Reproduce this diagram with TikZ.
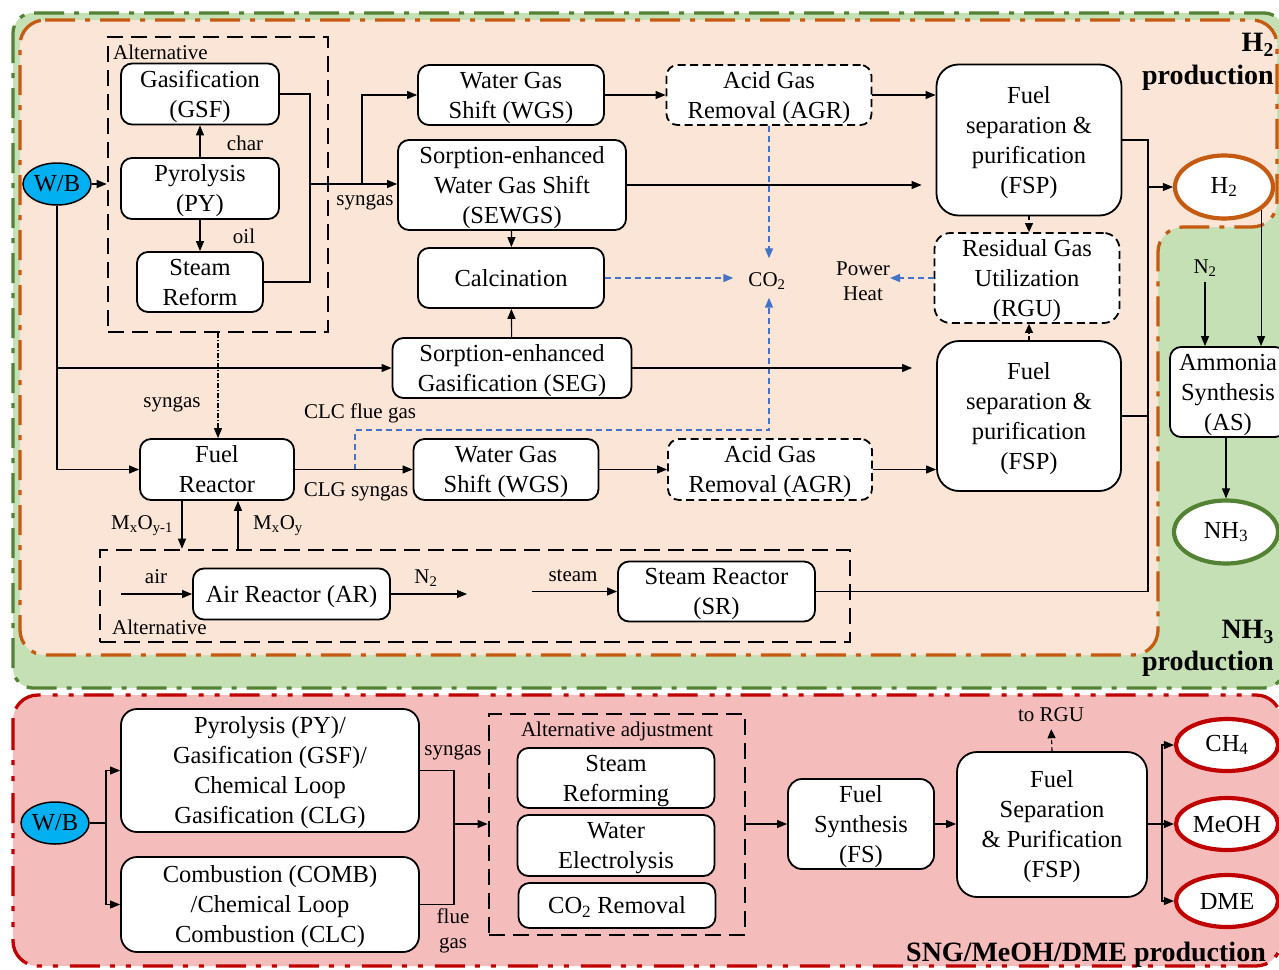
\documentclass[tikz,border=0pt]{standalone}
\usepackage{fontspec}
\setmainfont{Liberation Serif}
\usetikzlibrary{arrows.meta,calc,shapes.geometric}
\definecolor{peachF}{HTML}{FBE5D6}
\definecolor{greenF}{HTML}{C5E0B4}
\definecolor{pinkF}{HTML}{F5BCBC}
\definecolor{greenB}{HTML}{548235}
\definecolor{orangeB}{HTML}{C55A11}
\definecolor{redB}{HTML}{C00000}
\definecolor{blueC}{HTML}{4472C4}
\definecolor{wbC}{HTML}{00B0F0}
\newcommand{\fmain}{\fontsize{24.5}{30}\selectfont}
\newcommand{\fsmall}{\fontsize{21}{25}\selectfont}
\newcommand{\fbig}{\fontsize{28}{32}\selectfont\bfseries}
\newcommand{\sbs}[1]{\textsubscript{#1}}
\newcommand{\tx}[1]{\raisebox{-2pt}[\height][\depth]{\begin{tabular}{@{}c@{}}#1\end{tabular}}}
\tikzset{
 box/.style={draw, line width=1.8pt, rounded corners=11pt, fill=white, align=center, inner sep=0pt, font=\fmain},
 dbox/.style={box, dash pattern=on 8pt off 4.5pt},
 altbox/.style={draw, line width=2.6pt, dash pattern=on 16pt off 8pt, inner sep=0pt},
 conn/.style={line width=1.1pt, -{Triangle[length=10pt,width=8pt]}},
 plainline/.style={line width=1.1pt},
 bdash/.style={draw=blueC, line width=1.5pt, dash pattern=on 6pt off 4pt, -{Triangle[length=10pt,width=8pt]}},
 kdash/.style={line width=1.1pt, dash pattern=on 4pt off 3pt, -{Triangle[length=9pt,width=8pt]}},
 ddot/.style={line width=1.1pt, dash pattern=on 5pt off 2pt on 1pt off 2pt, -{Triangle[length=10pt,width=8pt]}},
 lbl/.style={font=\fsmall, inner sep=0pt, align=center},
 ttl/.style={font=\fbig, inner sep=0pt, anchor=east},
 wbnode/.style={ellipse, draw, line width=1.5pt, fill=wbC, inner sep=0pt, font=\fmain},
 prod/.style={ellipse, fill=white, inner sep=0pt, font=\fmain, line width=4.2pt},
 region/.style={line width=3.3pt, dash pattern=on 30pt off 10pt on 5pt off 10pt}
}
\begin{document}
\begin{tikzpicture}[x=1pt,y=-1pt]
\useasboundingbox (0,0) rectangle (1279,969);
% regions
\draw[region, draw=greenB, fill=greenF, rounded corners=20pt] (13,13) rectangle (1284,688);
\draw[region, draw=orangeB, fill=peachF, rounded corners=25pt] (20,20) -- (1277,20) -- (1277,227) -- (1158,227) -- (1158,655) -- (20,655) -- cycle;
\draw[line width=3.3pt, dash pattern=on 30pt off 10pt on 5pt off 11pt on 5pt off 12pt, draw=redB, fill=pinkF, rounded corners=25pt] (13,695) rectangle (1281,966);

% titles
\node[ttl] (t1a) at (1274,45) {H\sbs{2}};
\node[ttl] (t1b) at (1274,78) {production};
\node[ttl] (t2a) at (1274,632) {NH\sbs{3}};
\node[ttl] (t2b) at (1274,664) {production};
\node[ttl] (t3) at (1266,955) {SNG/MeOH/DME production};

% ===== top section =====
\node[altbox, minimum width=220, minimum height=295] (alt1) at (218,184.5) {};
\node[lbl, anchor=west] (alt1l) at (113,52) {Alternative};
\node[wbnode, minimum width=68, minimum height=42] (wb1) at (57,184) {W/B};
\node[box, minimum width=158, minimum height=61] (gsf) at (200,94) {\tx{Gasification\\(GSF)}};
\node[box, minimum width=158, minimum height=61] (py) at (200,188.5) {\tx{Pyrolysis\\(PY)}};
\node[box, minimum width=126, minimum height=60] (sr1) at (200,282) {\tx{Steam\\Reform}};
\node[lbl] (charl) at (245,143) {char};
\node[lbl] (oill) at (244,236) {oil};

\node[box, minimum width=186, minimum height=60] (wgs1) at (511,95) {\tx{Water Gas\\Shift (WGS)}};
\node[dbox, minimum width=205, minimum height=60] (agr1) at (769,95) {\tx{Acid Gas\\Removal (AGR)}};
\node[box, minimum width=228, minimum height=84] (sewgs) at (512,185) {\tx{Sorption-enhanced\\Water Gas Shift\\(SEWGS)}};
\node[box, minimum width=186, minimum height=60] (calc) at (511,278) {\tx{Calcination}};
\node[box, minimum width=239, minimum height=60] (seg) at (512,368) {\tx{Sorption-enhanced\\Gasification (SEG)}};
\node[lbl] (co2) at (767,281) {CO\sbs{2}};
\node[box, rounded corners=22pt, minimum width=185, minimum height=151] (fsp1) at (1029,140) {\tx{Fuel\\separation \&\\purification\\(FSP)}};
\node[dbox, rounded corners=16pt, minimum width=185, minimum height=83] (rgu) at (1027,278) {\tx{Residual Gas\\Utilization\\(RGU)}};
\node[lbl] (power) at (863,281) {Power\\Heat};
\node[box, rounded corners=22pt, minimum width=184, minimum height=150] (fsp2) at (1029,416) {\tx{Fuel\\separation \&\\purification\\(FSP)}};
\node[prod, draw=orangeB, minimum width=98, minimum height=63] (h2) at (1224,187) {H\sbs{2}};
\node[lbl] (n2a) at (1205,268) {N\sbs{2}};
\node[box, minimum width=116, minimum height=87] (as) at (1228,392) {\tx{Ammonia\\Synthesis\\(AS)}};
\node[prod, draw=greenB, minimum width=104, minimum height=63] (nh3) at (1226,532) {NH\sbs{3}};

\node[box, minimum width=154, minimum height=61] (fr) at (217,469.5) {\tx{Fuel\\Reactor}};
\node[box, minimum width=185, minimum height=61] (wgs2) at (506,469.5) {\tx{Water Gas\\Shift (WGS)}};
\node[dbox, minimum width=204, minimum height=61] (agr2) at (770,469.5) {\tx{Acid Gas\\Removal (AGR)}};
\node[lbl] (syng2) at (172,404) {syngas};
\node[lbl] (syng1) at (365,202) {syngas};
\node[lbl] (clcl) at (360,413) {CLC flue gas};
\node[lbl] (clgl) at (356,492) {CLG syngas};
\node[lbl] (mx1) at (142,526) {M\sbs{x}O\sbs{y-1}};
\node[lbl] (mx2) at (278,526) {M\sbs{x}O\sbs{y}};

\node[altbox, minimum width=750, minimum height=92] (alt2) at (475,596) {};
\node[lbl, anchor=west] (alt2l) at (112,627) {Alternative};
\node[box, minimum width=197, minimum height=51] (ar) at (291.5,594) {\tx{Air Reactor (AR)}};
\node[box, minimum width=197, minimum height=57] (srr) at (716.5,591.5) {\tx{Steam Reactor\\(SR)}};
\node[lbl] (airl) at (156,577) {air};
\node[lbl] (n2b) at (426,578) {N\sbs{2}};
\node[lbl] (steaml) at (573,576) {steam};

\coordinate (airin) at (121,594);
\coordinate (n2out) at (467,594);
\coordinate (steamin) at (532,591.5);
\coordinate (j1) at (310,184);
\coordinate (j2) at (362,184);
\coordinate (bus) at (1148,187);
\coordinate (clc) at (355,469.5);
\coordinate (b1) at (769,430);

% connectors top
\draw[conn] (wb1.east) -- (alt1.west|-wb1.east);
\draw[conn] (py) -- (gsf);
\draw[conn] (py) -- (sr1);
\draw[plainline] (gsf.east) -| (j1);
\draw[plainline] (sr1.east) -| (j1);
\draw[conn] (j1) -- (sewgs.west|-j1);
\draw[conn] (j2) |- (wgs1.west);
\draw[conn] (wgs1) -- (agr1);
\draw[conn] (agr1.east) -- (fsp1.west|-agr1.east);
\draw[conn, shorten >=14pt] (sewgs.east) -- (fsp1.west|-sewgs.east);
\draw[conn] (sewgs) -- (calc);
\draw[conn] (seg) -- (calc);
\draw[bdash, shorten >=15pt] (calc.east) -- (co2.west|-calc.east);
\draw[bdash, shorten >=14pt] (agr1.south) -- (agr1.south|-co2.north);
\draw[bdash, shorten >=8pt] (clc) |- (b1) -- (b1|-co2.south);
\draw[kdash] (fsp1.south) -- (fsp1.south|-rgu.north);
\draw[kdash] (fsp2.north) -- (fsp2.north|-rgu.south);
\draw[bdash] (rgu.west) -- (power.east|-rgu.west);
\draw[conn, shorten >=24pt] (seg.east) -- (fsp2.west|-seg.east);
\draw[conn] (agr2.east) -- (fsp2.west|-agr2.east);
\draw[plainline] (fsp1.east) -| (bus);
\draw[plainline] (fsp2.east) -| (bus);
\draw[plainline] (srr.east) -| (bus);
\draw[conn] (bus) -- (h2.west);
\draw[conn] (h2.-32) -- (h2.-32|-as.north);
\draw[conn] (n2a.south)++(0,5) -- (n2a.south|-as.north);
\draw[conn] (as.south-|nh3.north) -- (nh3);
\draw[conn] (wb1.south) |- (fr.west);
\draw[conn] (wb1.south|-seg.west) -- (seg.west);
\draw[ddot] (alt1.south) -- (alt1.south|-fr.north);
\draw[conn] (fr.east) -- (wgs2.west);
\draw[conn] (wgs2) -- (agr2);
\draw[conn] ([xshift=-35pt]fr.south) -- ([xshift=-35pt]fr.south|-alt2.north);
\draw[conn] ([xshift=21pt]fr.south|-alt2.north) -- ([xshift=21pt]fr.south);
\draw[conn] (airin) -- (ar.west);
\draw[conn] (ar.east) -- (n2out);
\draw[conn] (steamin) -- (srr.west);

% ===== bottom section =====
\node[wbnode, minimum width=68, minimum height=42] (wb2) at (55,823) {W/B};
\node[box, rounded corners=16pt, minimum width=298, minimum height=123] (p1) at (270,770.5) {\tx{Pyrolysis (PY)/\\Gasification (GSF)/\\Chemical Loop\\Gasification (CLG)}};
\node[box, rounded corners=16pt, minimum width=298, minimum height=95] (p2) at (270,904.5) {\tx{Combustion (COMB)\\/Chemical Loop\\Combustion (CLC)}};
\node[altbox, minimum width=256, minimum height=221] (alt3) at (617,824.5) {};
\node[lbl] (alt3l) at (617,731) {Alternative adjustment};
\node[box, minimum width=197, minimum height=60] (srf) at (616,778) {\tx{Steam\\Reforming}};
\node[box, minimum width=197, minimum height=61] (we) at (616,845.5) {\tx{Water\\Electrolysis}};
\node[box, minimum width=197, minimum height=45] (co2r) at (617,905.5) {\tx{CO\sbs{2} Removal}};
\node[box, rounded corners=14pt, minimum width=146, minimum height=86] (fs) at (861,824) {\tx{Fuel\\Synthesis\\(FS)}};
\node[box, rounded corners=20pt, minimum width=190, minimum height=145] (fsp3) at (1052,824.5) {\tx{Fuel\\Separation\\\& Purification\\(FSP)}};
\node[lbl] (torgu) at (1051,715) {to RGU};
\node[prod, draw=redB, minimum width=102, minimum height=52] (ch4) at (1227,745) {CH\sbs{4}};
\node[prod, draw=redB, minimum width=102, minimum height=52] (meoh) at (1227,824) {MeOH};
\node[prod, draw=redB, minimum width=102, minimum height=52] (dme) at (1227,901) {DME};
\node[lbl] (syng3) at (453,752) {syngas};
\node[lbl] (flue) at (453,931) {flue\\gas};

\coordinate (j3) at (106,823);
\coordinate (j4) at (454,824);
\coordinate (j5) at (1162,824);
\draw[plainline] (wb2.east) -- (j3);
\draw[conn] (j3) |- (p1.west);
\draw[conn] (j3) |- (p2.west);
\draw[plainline] (p1.east) -| (j4);
\draw[plainline] (p2.east) -| (j4);
\draw[conn] (j4) -- (alt3.west|-j4);
\draw[conn] (alt3.east|-fs.west) -- (fs.west);
\draw[conn] (fs.east) -- (fsp3.west|-fs.east);
\draw[kdash, shorten >=7pt] (fsp3.north) -- (torgu.south);
\draw[plainline] (fsp3.east|-j5) -- (j5);
\draw[conn] (j5) |- (ch4.west);
\draw[conn] (j5) -- (meoh.west);
\draw[conn] (j5) |- (dme.west);
\end{tikzpicture}
\end{document}
